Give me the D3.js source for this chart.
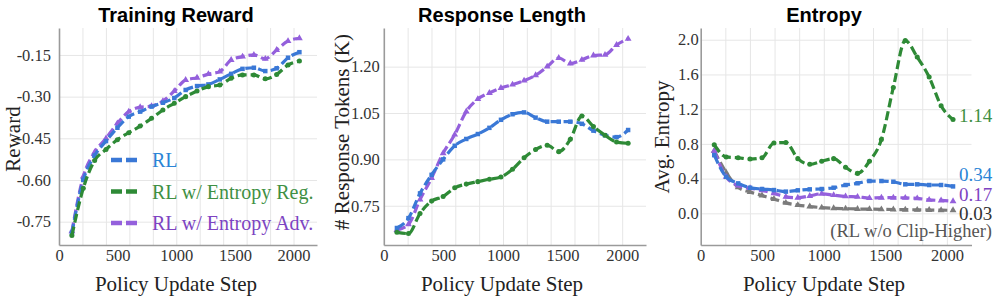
<!DOCTYPE html>
<html>
<head>
<meta charset="utf-8">
<script src="https://cdn.jsdelivr.net/npm/d3@7"></script>
<style>
  body { margin: 0; background: #fff; }
  svg { display: block; }
</style>
</head>
<body>
<div id="chart"></div>
<script>
// policy update steps (x)
const steps = [110,207,304,401,498,595,692,789,886,983,1080,1177,1274,1371,1468,1565,1662,1759,1856,1953,2050];

const seriesNames = ['RL','RL w/ Entropy Reg.','RL w/ Entropy Adv.'];

// training reward
const rewardRL  = [-0.79,-0.60,-0.512,-0.46,-0.412,-0.372,-0.354,-0.336,-0.322,-0.305,-0.276,-0.262,-0.256,-0.238,-0.218,-0.20,-0.196,-0.208,-0.198,-0.16,-0.14];
const rewardReg = [-0.80,-0.63,-0.53,-0.49,-0.455,-0.43,-0.406,-0.378,-0.348,-0.324,-0.30,-0.28,-0.264,-0.258,-0.234,-0.222,-0.222,-0.236,-0.22,-0.186,-0.172];
const rewardAdv = [-0.785,-0.588,-0.50,-0.45,-0.396,-0.354,-0.338,-0.334,-0.316,-0.28,-0.24,-0.232,-0.219,-0.21,-0.168,-0.156,-0.15,-0.164,-0.132,-0.10,-0.09];

// response length (K tokens)
const lengthRL  = [0.678,0.71,0.79,0.85,0.90,0.944,0.966,0.982,1.002,1.028,1.046,1.052,1.035,1.022,1.022,1.022,1.015,0.993,0.978,0.972,0.995];
const lengthReg = [0.664,0.66,0.725,0.765,0.78,0.808,0.82,0.828,0.836,0.843,0.868,0.905,0.932,0.946,0.925,0.965,1.04,1.006,0.978,0.956,0.952];
const lengthAdv = [0.671,0.69,0.77,0.84,0.92,0.98,1.055,1.095,1.115,1.131,1.142,1.155,1.172,1.20,1.228,1.21,1.222,1.236,1.238,1.27,1.29];

// entropy
const entropyRL     = [0.67,0.42,0.345,0.295,0.28,0.268,0.25,0.265,0.276,0.28,0.295,0.326,0.346,0.372,0.372,0.364,0.334,0.334,0.326,0.326,0.31];
const entropyReg    = [0.79,0.65,0.64,0.625,0.64,0.81,0.815,0.63,0.565,0.60,0.63,0.53,0.46,0.60,0.85,1.45,1.99,1.80,1.57,1.24,1.08];
const entropyAdv    = [0.72,0.42,0.32,0.29,0.265,0.23,0.19,0.18,0.20,0.225,0.21,0.195,0.19,0.175,0.18,0.18,0.178,0.172,0.155,0.148,0.14];
const entropyNoClip = [0.72,0.47,0.30,0.245,0.205,0.165,0.12,0.095,0.078,0.066,0.058,0.054,0.05,0.048,0.046,0.044,0.042,0.04,0.038,0.036,0.035];

// tick labels
const xTicks = [0,500,1000,1500,2000];
const rewardTicks = [-0.75,-0.60,-0.45,-0.30,-0.15];
const lengthTicks = [0.75,0.90,1.05,1.20];
const entropyTicks = [0.0,0.4,0.8,1.2,1.6,2.0];

const colors = {rl:'#3a78d6', reg:'#2e8a36', adv:'#9460dc', noclip:'#7b7b7b'};
const textColors = {rl:'#2a84d6', reg:'#3f9044', adv:'#7d44c2'};

const W = 997, H = 301;
const plotTop = 28, plotBottom = 245;

const svg = d3.select('#chart')
  .append('svg')
  .attr('width', W)
  .attr('height', H)
  .style('font-family', '"Liberation Serif", "Times New Roman", serif');

function drawPanel(p) {
  const x = d3.scaleLinear().domain([0,2200]).range([p.left, p.right]);
  const y = d3.scaleLinear().domain(p.yDomain).range([plotBottom, plotTop]);
  const g = svg.append('g');

  // grid
  g.append('g')
    .attr('transform', `translate(0,${plotBottom})`)
    .call(d3.axisBottom(x).tickValues(d3.range(200,2001,200)).tickSize(-(plotBottom-plotTop)).tickFormat(''))
    .call(s => s.select('.domain').remove())
    .call(s => s.selectAll('line').attr('stroke','#e6e6e6').attr('stroke-width',1));
  g.append('g')
    .attr('transform', `translate(${p.left},0)`)
    .call(d3.axisLeft(y).tickValues(p.yTicks).tickSize(-(p.right-p.left)).tickFormat(''))
    .call(s => s.select('.domain').remove())
    .call(s => s.selectAll('line').attr('stroke','#e6e6e6').attr('stroke-width',1));

  // axes
  const xa = g.append('g')
    .attr('transform', `translate(0,${plotBottom})`)
    .call(d3.axisBottom(x).tickValues(xTicks).tickSize(0).tickPadding(4).tickFormat(d => d));
  const ya = g.append('g')
    .attr('transform', `translate(${p.left},0)`)
    .call(d3.axisLeft(y).tickValues(p.yTicks).tickSize(0).tickPadding(p.pad).tickFormat(d => d.toFixed(p.digits)));
  [xa, ya].forEach(a => {
    a.select('.domain').attr('stroke','#9a9a9a').attr('stroke-width',1.6);
    a.selectAll('text').attr('font-size',16.5).attr('fill','#333')
      .attr('font-family','"Liberation Serif", serif');
  });

  // lines
  const line = d3.line()
    .x((d,i) => x(steps[i]))
    .y(d => y(d))
    .curve(d3.curveMonotoneX);

  p.series.forEach(s => {
    g.append('path')
      .datum(s.values)
      .attr('fill','none')
      .attr('stroke', s.color)
      .attr('stroke-width', 3.2)
      .attr('stroke-dasharray','9,4')
      .attr('d', line);
    g.selectAll(null)
      .data(s.values)
      .enter()
      .append('path')
      .attr('d', d3.symbol().type(s.symbol).size(s.symbol === d3.symbolCircle ? 20 : 20))
      .attr('transform', (d,i) => `translate(${x(steps[i])},${y(d)})`)
      .attr('fill', s.color);
  });

  // titles
  svg.append('text')
    .attr('x', p.titleX).attr('y', 22)
    .attr('text-anchor','middle')
    .attr('font-family','"Liberation Sans", Arial, sans-serif')
    .attr('font-weight','bold')
    .attr('font-size',20)
    .attr('fill','#000')
    .text(p.title);
  svg.append('text')
    .attr('x', p.titleX).attr('y', 291)
    .attr('text-anchor','middle')
    .attr('font-size',21)
    .attr('fill','#222')
    .text('Policy Update Step');
  svg.append('text')
    .attr('transform', `translate(${p.yLabelX},${p.yLabelY}) rotate(-90)`)
    .attr('text-anchor','middle')
    .attr('dy','0.35em')
    .attr('font-size',21)
    .attr('fill','#222')
    .text(p.yLabel);
}

drawPanel({
  title:'Training Reward', titleX:176, left:59, right:317,
  yDomain:[-0.834,-0.053], yTicks:rewardTicks, digits:2, pad:8,
  yLabel:'Reward', yLabelX:13, yLabelY:139,
  series:[
    {values:rewardAdv, color:colors.adv, symbol:d3.symbolTriangle},
    {values:rewardRL, color:colors.rl, symbol:d3.symbolSquare},
    {values:rewardReg, color:colors.reg, symbol:d3.symbolCircle}
  ]
});

drawPanel({
  title:'Response Length', titleX:502, left:383.8, right:646,
  yDomain:[0.623,1.325], yTicks:lengthTicks, digits:2, pad:4,
  yLabel:'# Response Tokens (K)', yLabelX:342, yLabelY:132,
  series:[
    {values:lengthAdv, color:colors.adv, symbol:d3.symbolTriangle},
    {values:lengthRL, color:colors.rl, symbol:d3.symbolSquare},
    {values:lengthReg, color:colors.reg, symbol:d3.symbolCircle}
  ]
});

drawPanel({
  title:'Entropy', titleX:824, left:700.7, right:971.5,
  yDomain:[-0.365,2.135], yTicks:entropyTicks, digits:1, pad:2,
  yLabel:'Avg. Entropy', yLabelX:662, yLabelY:137,
  series:[
    {values:entropyNoClip, color:colors.noclip, symbol:d3.symbolTriangle},
    {values:entropyAdv, color:colors.adv, symbol:d3.symbolTriangle},
    {values:entropyRL, color:colors.rl, symbol:d3.symbolSquare},
    {values:entropyReg, color:colors.reg, symbol:d3.symbolCircle}
  ]
});

// legend in the reward panel
const legendKeys = ['rl','reg','adv'];
const legend = svg.append('g');
legendKeys.forEach((k,i) => {
  const ly = 160 + i*31.5;
  legend.append('line')
    .attr('x1',111).attr('x2',137).attr('y1',ly).attr('y2',ly)
    .attr('stroke',colors[k]).attr('stroke-width',4.5)
    .attr('stroke-dasharray','11,4');
  legend.append('text')
    .attr('x',152).attr('y',ly).attr('dy','0.35em')
    .attr('font-size',20)
    .attr('fill',textColors[k])
    .text(seriesNames[i]);
});

// end-value labels on the entropy panel
const endLabels = [
  {text:'1.14', y:115, color:textColors.reg},
  {text:'0.34', y:174, color:textColors.rl},
  {text:'0.17', y:194, color:textColors.adv},
  {text:'0.03', y:213, color:'#333'}
];
endLabels.forEach(d => {
  svg.append('text')
    .attr('x',959).attr('y',d.y).attr('dy','0.35em')
    .attr('font-size',19)
    .attr('fill',d.color)
    .text(d.text);
});
svg.append('text')
  .attr('x',992).attr('y',231).attr('dy','0.35em')
  .attr('text-anchor','end')
  .attr('font-size',18.5)
  .attr('fill','#555')
  .text('(RL w/o Clip-Higher)');
</script>
</body>
</html>
